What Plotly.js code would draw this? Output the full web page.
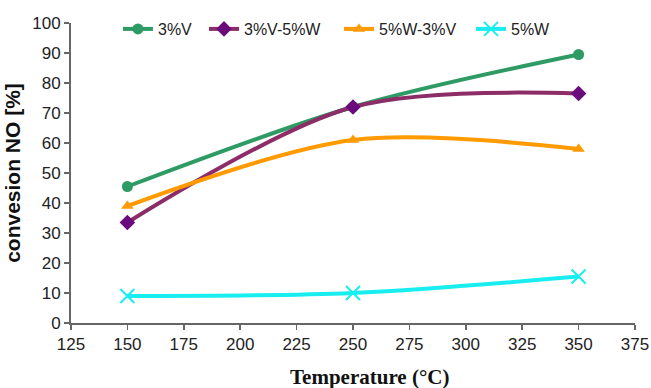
<!DOCTYPE html>
<html><head><meta charset="utf-8">
<script src="https://cdn.plot.ly/plotly-3.0.1.min.js"></script>
<style>html,body{margin:0;padding:0;background:#fff}#c{width:651px;height:388px}</style>
</head><body><div id="c"></div>
<script>
const temperature = [150, 250, 350];
const v3 = [45.5, 72, 89.5];
const v3w5 = [33.5, 72, 76.5];
const w5v3 = [39, 61, 58];
const w5 = [9, 10, 15.5];
const seriesNames = ['3%V', '3%V-5%W', '5%W-3%V', '5%W'];
const xTicks = [125,150,175,200,225,250,275,300,325,350,375];
const yTicks = [0,10,20,30,40,50,60,70,80,90,100];
const xTitle = 'Temperature (°C)';
const yTitle = 'convesion NO [%]';

function tr(y, name, lc, mc, sym, ms, leg, mline){
  return {x: temperature, y: y, name: name, type:'scatter', mode:'lines+markers', legend: leg,
    line:{color:lc, width:4, shape:'spline', smoothing:0.9},
    marker:{color:mc, symbol:sym, size:ms, line: mline || {width:0}}};
}
const data = [
  tr(v3, seriesNames[0], '#2e9a64', '#2e9a64', 'circle', 11, 'legend'),
  tr(v3w5, seriesNames[1], '#8c2d68', '#6b0a7c', 'diamond', 12, 'legend2'),
  tr(w5v3, seriesNames[2], '#ff9a00', '#ff9a00', 'triangle-up', 11, 'legend3'),
  tr(w5, seriesNames[3], '#18eef0', '#18eef0', 'x-thin', 14, 'legend4', {width:2, color:'#18eef0'})
];
const ax = {showgrid:false, zeroline:false, showline:true, linecolor:'#666', linewidth:2,
  ticks:'outside', ticklen:5, tickwidth:1.5, tickcolor:'#666',
  tickfont:{family:'Liberation Sans, Arial', size:17, color:'#222'}};
function leg(x){
  return {orientation:'h', x:x, y:0.98, xanchor:'left', yanchor:'middle',
    font:{family:'Liberation Sans, Arial', size:16, color:'#222'}, bgcolor:'rgba(0,0,0,0)'};
}
const layout = {
  width:651, height:388, paper_bgcolor:'#fff', plot_bgcolor:'#fff',
  margin:{l:71, r:16, t:21, b:65},
  showlegend:true,
  legend: leg(0.0833), legend2: leg(0.2358), legend3: leg(0.4752), legend4: leg(0.7092),
  xaxis: Object.assign({}, ax, {range:[125,375], tickvals:xTicks, ticktext:xTicks.map(String)}),
  yaxis: Object.assign({}, ax, {range:[0,100], tickvals:yTicks, ticktext:yTicks.map(String),
    title:{text:yTitle, font:{family:'Liberation Sans, Arial', size:21, color:'#111', weight:'bold'}, standoff:6}}),
  annotations:[{text:xTitle, xref:'paper', yref:'paper', x:0.53, y:-0.18, xanchor:'center', yanchor:'middle',
    showarrow:false, font:{family:'Liberation Serif, Times New Roman', size:21, color:'#111', weight:'bold'}}]
};
Plotly.newPlot('c', data, layout, {displayModeBar:false, staticPlot:true});
</script></body></html>
